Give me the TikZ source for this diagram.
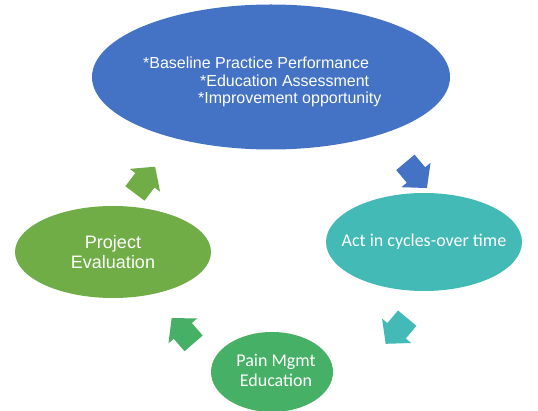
\documentclass[tikz,border=0pt]{standalone}
\usepackage{fontspec}
\setmainfont{Liberation Sans}
\newfontfamily\calibrifont{Carlito}
\usepackage{tikz}
\usetikzlibrary{shapes.geometric, positioning}

\definecolor{planblue}{HTML}{4472C4}
\definecolor{actteal}{HTML}{43BAB5}
\definecolor{paingreen}{HTML}{46B066}
\definecolor{evalgreen}{HTML}{70AD47}

\tikzset{
  cyclearrow/.pic={
    \fill (-16.5,12) -- (0,12) -- (0,19) -- (17,0) -- (0,-19) -- (0,-12) -- (-16.5,-12) -- cycle;
  }
}

\begin{document}
\begin{tikzpicture}[x=1pt, y=-1pt,
    bubble/.style={ellipse, draw=none, inner sep=0pt},
    bubbletext/.style={text=white, align=center, inner sep=0pt}]
        \useasboundingbox (0,0) rectangle (538,411);

        % Elipse superior (linea base)
        \node[bubble, fill=planblue, minimum width=358pt, minimum height=145pt] (base) at (271,77) {};
        \node[bubbletext, align=left, anchor=west, font=\fontsize{16}{17.5}\selectfont] (baseTxt) at (143,82)
            {*Baseline Practice Performance\\
             \hspace*{57pt}*Education Assessment\\
             \hspace*{55pt}*Improvement opportunity};

        % Elipse derecha
        \node[bubble, fill=actteal, minimum width=196pt, minimum height=98pt] (act) at (424,242) {};
        \node[bubbletext, font=\calibrifont\fontsize{18}{20}\selectfont] (actTxt) at (act) {Act in cycles-over time};

        % Elipse inferior
        \node[bubble, fill=paingreen, minimum width=122pt, minimum height=80pt] (pain) at (272,372) {};
        \node[bubbletext, font=\calibrifont\fontsize{18}{20}\selectfont] (painTxt) at (276,370) {Pain Mgmt\\Education};

        % Elipse izquierda
        \node[bubble, fill=evalgreen, minimum width=196pt, minimum height=92pt] (eval) at (113,252) {};
        \node[bubbletext, font=\fontsize{18}{20}\selectfont] (evalTxt) at (eval) {Project\\Evaluation};

        % Flechas del ciclo
        \pic[fill=planblue, rotate=-50] (toAct) at (416,175) {cyclearrow};
        \pic[fill=actteal, rotate=230] (toPain) at (396.6,330.8) {cyclearrow};
        \pic[fill=paingreen, rotate=131] (toEval) at (182.8,330.9) {cyclearrow};
        \pic[fill=evalgreen, rotate=53] (toBase) at (144.9,180.3) {cyclearrow};
    \end{tikzpicture}
\end{document}
